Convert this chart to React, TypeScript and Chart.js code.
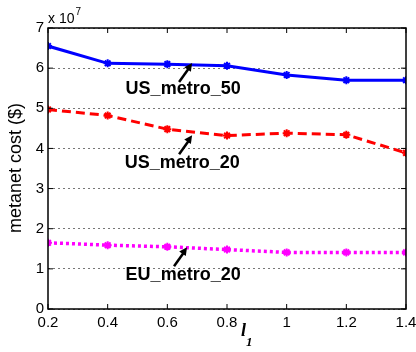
import React, { useEffect, useRef } from "react";
import { Chart, registerables } from "chart.js";

Chart.register(...registerables);

const xValues = [0.2, 0.4, 0.6, 0.8, 1.0, 1.2, 1.4];
const xTickLabels = ["0.2", "0.4", "0.6", "0.8", "1", "1.2", "1.4"];
const yTicks = [0, 1, 2, 3, 4, 5, 6, 7];
// values in units of 1e7 $
const usMetro50 = [6.55, 6.12, 6.1, 6.06, 5.83, 5.7, 5.7];
const usMetro20 = [4.97, 4.82, 4.48, 4.32, 4.38, 4.34, 3.89];
const euMetro20 = [1.65, 1.59, 1.55, 1.48, 1.41, 1.41, 1.41];
const seriesNames = ["US_metro_50", "US_metro_20", "EU_metro_20"];
// annotation label positions and arrow heads (data units)
const annotations = [
  { text: "US_metro_50", headX: 0.683, headY: 6.13, textX: 0.653, textY: 5.47 },
  { text: "US_metro_20", headX: 0.683, headY: 4.33, textX: 0.65, textY: 3.64 },
  { text: "EU_metro_20", headX: 0.666, headY: 1.54, textX: 0.653, textY: 0.85 },
];

const FONT = "Liberation Sans, Arial, sans-serif";
const SERIF = "Liberation Serif, Times New Roman, serif";

const decorPlugin = {
  id: "decor",
  afterDraw(chart: any) {
    const { ctx, chartArea, scales } = chart;
    const xs = scales.x;
    const ys = scales.y;
    const { left, right, top, bottom } = chartArea;
    ctx.save();
    // box
    ctx.strokeStyle = "#000";
    ctx.lineWidth = 1.5;
    ctx.strokeRect(left, top, right - left, bottom - top);
    // inward ticks
    ctx.lineWidth = 1;
    const tl = 5;
    xValues.forEach((v) => {
      const px = xs.getPixelForValue(v);
      ctx.beginPath();
      ctx.moveTo(px, bottom);
      ctx.lineTo(px, bottom - tl);
      ctx.moveTo(px, top);
      ctx.lineTo(px, top + tl);
      ctx.stroke();
    });
    yTicks.forEach((v) => {
      const py = ys.getPixelForValue(v);
      ctx.beginPath();
      ctx.moveTo(left, py);
      ctx.lineTo(left + tl, py);
      ctx.moveTo(right, py);
      ctx.lineTo(right - tl, py);
      ctx.stroke();
    });
    // x10^7
    ctx.fillStyle = "#000";
    ctx.textBaseline = "alphabetic";
    ctx.textAlign = "left";
    ctx.font = `14px ${FONT}`;
    ctx.fillText("x 10", left, top - 5);
    const w = ctx.measureText("x 10").width;
    ctx.font = `10px ${FONT}`;
    ctx.fillText("7", left + w + 1, top - 13);
    // y title
    ctx.save();
    ctx.translate(16, 168);
    ctx.rotate(-Math.PI / 2);
    ctx.textAlign = "center";
    ctx.textBaseline = "middle";
    ctx.font = `18px ${FONT}`;
    ctx.fillText("metanet cost ($)", 0, 0);
    ctx.restore();
    // x title l1
    ctx.font = `italic bold 18px ${SERIF}`;
    ctx.textAlign = "left";
    ctx.textBaseline = "alphabetic";
    ctx.fillText("l", 241, 336);
    ctx.font = `italic bold 13px ${SERIF}`;
    ctx.fillText("1", 246, 346);
    // annotations
    annotations.forEach((a) => {
      const hx = xs.getPixelForValue(a.headX);
      const hy = ys.getPixelForValue(a.headY);
      const tx = hx - 13;
      const ty = hy + 19;
      ctx.strokeStyle = "#000";
      ctx.fillStyle = "#000";
      ctx.lineWidth = 2.5;
      ctx.beginPath();
      ctx.moveTo(tx, ty);
      ctx.lineTo(hx - 3, hy + 5);
      ctx.stroke();
      const ang = Math.atan2(hy - ty, hx - tx);
      const L = 8;
      const W = 4;
      ctx.beginPath();
      ctx.moveTo(hx, hy);
      ctx.lineTo(hx - L * Math.cos(ang) + W * Math.sin(ang), hy - L * Math.sin(ang) - W * Math.cos(ang));
      ctx.lineTo(hx - L * Math.cos(ang) - W * Math.sin(ang), hy - L * Math.sin(ang) + W * Math.cos(ang));
      ctx.closePath();
      ctx.fill();
      ctx.font = `bold 18px ${FONT}`;
      ctx.textAlign = "center";
      ctx.textBaseline = "middle";
      ctx.fillText(a.text, xs.getPixelForValue(a.textX), ys.getPixelForValue(a.textY));
    });
    ctx.restore();
  },
};

export default function App() {
  const ref = useRef<HTMLCanvasElement>(null);
  useEffect(() => {
    document.body.style.margin = "0";
    const mk = (vals: number[]) => xValues.map((x, i) => ({ x, y: vals[i] }));
    const chart = new Chart(ref.current!, {
      type: "line",
      data: {
        datasets: [
          {
            label: seriesNames[0],
            data: mk(usMetro50),
            borderColor: "#0000ff",
            backgroundColor: "#0000ff",
            borderWidth: 3,
            pointStyle: "star",
            pointRadius: 4,
            pointBorderWidth: 2,
          },
          {
            label: seriesNames[1],
            data: mk(usMetro20),
            borderColor: "#ff0000",
            backgroundColor: "#ff0000",
            borderWidth: 3,
            borderDash: [9, 5],
            pointStyle: "star",
            pointRadius: 4,
            pointBorderWidth: 2,
          },
          {
            label: seriesNames[2],
            data: mk(euMetro20),
            borderColor: "#ff00ff",
            backgroundColor: "#ff00ff",
            borderWidth: 3.5,
            borderDash: [3, 3],
            pointStyle: "star",
            pointRadius: 4,
            pointBorderWidth: 2,
          },
        ],
      },
      options: {
        animation: false,
        responsive: false,
        devicePixelRatio: 1,
        layout: { padding: { top: 28, right: 10, left: 0, bottom: 0 } },
        plugins: { legend: { display: false }, tooltip: { enabled: false } },
        scales: {
          x: {
            type: "linear",
            min: 0.2,
            max: 1.4,
            afterBuildTicks: (s: any) => {
              s.ticks = xValues.map((v) => ({ value: v }));
            },
            afterFit: (s: any) => {
              s.height = 43;
              s.paddingLeft = 0;
              s.paddingRight = 0;
            },
            ticks: {
              color: "#000",
              font: { family: FONT, size: 15 },
              padding: 5,
              maxRotation: 0,
              autoSkip: false,
              callback: (_v: any, i: number) => xTickLabels[i],
            },
            grid: { display: false, drawTicks: false },
            border: { display: false },
          },
          y: {
            type: "linear",
            min: 0,
            max: 7,
            afterBuildTicks: (s: any) => {
              s.ticks = yTicks.map((v) => ({ value: v }));
            },
            afterFit: (s: any) => {
              s.width = 48;
              s.paddingTop = 0;
              s.paddingBottom = 0;
            },
            ticks: {
              color: "#000",
              font: { family: FONT, size: 15 },
              padding: 4,
              callback: (v: any) => String(v),
            },
            grid: {
              color: "#777",
              lineWidth: 1,
              drawTicks: false,
            },
            border: { display: false, dash: [2, 3] },
          },
        },
      },
      plugins: [decorPlugin],
    });
    return () => chart.destroy();
  }, []);
  return (
    <div style={{ width: 416, height: 352, background: "#fff" }}>
      <canvas ref={ref} width={416} height={352} style={{ display: "block" }} />
    </div>
  );
}
